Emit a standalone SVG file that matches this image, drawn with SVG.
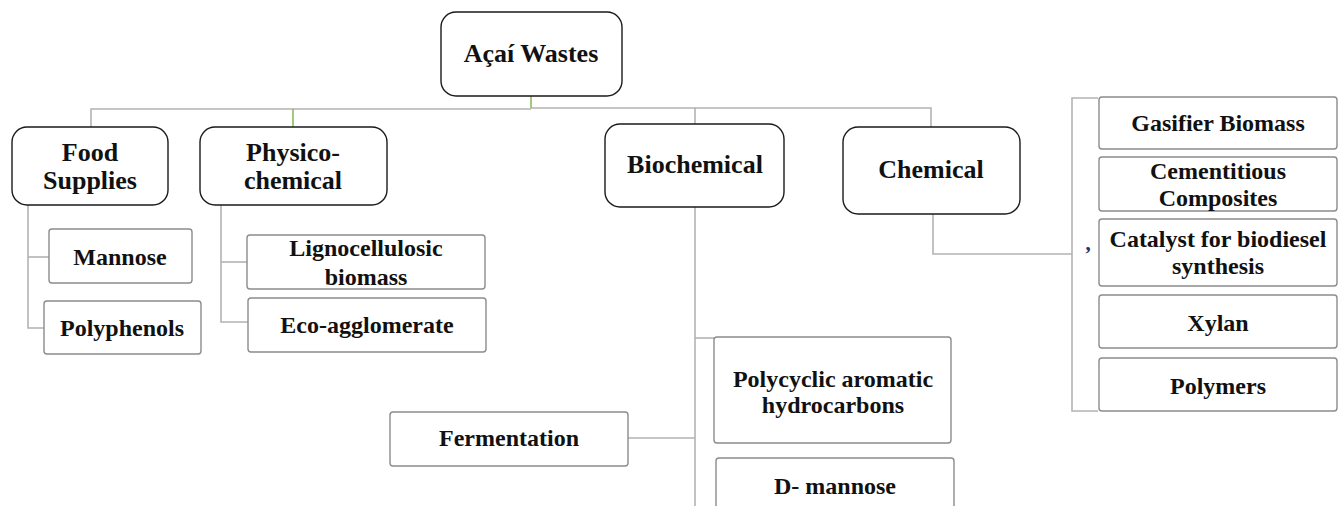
<svg xmlns="http://www.w3.org/2000/svg" width="1338" height="506" viewBox="0 0 1338 506">
<style>
  .main { fill: #ffffff; stroke: #1a1a1a; stroke-width: 1.4; }
  .leaf { fill: #ffffff; stroke: #8c8c8c; stroke-width: 1.4; }
  .ln { fill: none; stroke: #b3b3b3; stroke-width: 1.6; }
  .gr { fill: none; stroke: #7cb342; stroke-width: 1.4; }
  text { font-family: "Liberation Serif", "Times New Roman", serif; font-weight: bold; fill: #111111; text-anchor: middle; }
  .t1 { font-size: 26px; }
  .t2 { font-size: 24px; }
</style>
<rect width="1338" height="506" fill="#ffffff"/>

<g id="connectors">
  <path class="ln" d="M91 127 V109 H531"/>
  <path class="ln" d="M531 108 H695 V124"/>
  <path class="ln" d="M695 108 H931 V127"/>
  <path class="gr" d="M531 96 V108"/>
  <path class="gr" d="M293 109 V127"/>
  <path class="ln" d="M28 205 V328 H44"/>
  <path class="ln" d="M28 257 H49"/>
  <path class="ln" d="M221 205 V322 H248"/>
  <path class="ln" d="M221 262 H247"/>
  <path class="ln" d="M695 207 V506"/>
  <path class="ln" d="M628 438 H695"/>
  <path class="ln" d="M695 338 H714"/>
  <path class="ln" d="M933 214 V254 H1072"/>
  <path class="ln" d="M1098 98 H1072 V411 H1098"/>
</g>

<g id="acai-wastes">
  <rect class="main" x="441" y="12" width="181" height="84" rx="15"/>
  <text class="t1" x="531" y="62">Açaí Wastes</text>
</g>
<g id="food-supplies">
  <rect class="main" x="12" y="127" width="156" height="78" rx="15"/>
  <text class="t1" x="90" y="161">Food</text>
  <text class="t1" x="90" y="189">Supplies</text>
</g>
<g id="physico-chemical">
  <rect class="main" x="200" y="127" width="187" height="78" rx="15"/>
  <text class="t1" x="293" y="161">Physico-</text>
  <text class="t1" x="293" y="189">chemical</text>
</g>
<g id="biochemical">
  <rect class="main" x="605" y="124" width="179" height="83" rx="15"/>
  <text class="t1" x="695" y="173">Biochemical</text>
</g>
<g id="chemical">
  <rect class="main" x="843" y="127" width="177" height="87" rx="15"/>
  <text class="t1" x="931" y="178">Chemical</text>
</g>

<g id="mannose">
  <rect class="leaf" x="49" y="229" width="143" height="54" rx="3"/>
  <text class="t2" x="120" y="265">Mannose</text>
</g>
<g id="polyphenols">
  <rect class="leaf" x="44" y="301" width="157" height="53" rx="3"/>
  <text class="t2" x="122" y="336">Polyphenols</text>
</g>
<g id="lignocellulosic-biomass">
  <rect class="leaf" x="247" y="235" width="238" height="54" rx="3"/>
  <text class="t2" x="366" y="256">Lignocellulosic</text>
  <text class="t2" x="366" y="285">biomass</text>
</g>
<g id="eco-agglomerate">
  <rect class="leaf" x="248" y="298" width="238" height="54" rx="3"/>
  <text class="t2" x="367" y="333">Eco-agglomerate</text>
</g>
<g id="fermentation">
  <rect class="leaf" x="390" y="412" width="238" height="54" rx="3"/>
  <text class="t2" x="509" y="446">Fermentation</text>
</g>
<g id="polycyclic">
  <rect class="leaf" x="714" y="337" width="237" height="106" rx="3"/>
  <text class="t2" x="833" y="387">Polycyclic aromatic</text>
  <text class="t2" x="833" y="413">hydrocarbons</text>
</g>
<g id="d-mannose">
  <rect class="leaf" x="716" y="458" width="238" height="60" rx="3"/>
  <text class="t2" x="835" y="494">D- mannose</text>
</g>
<g id="gasifier-biomass">
  <rect class="leaf" x="1099" y="97" width="238" height="52" rx="3"/>
  <text class="t2" x="1218" y="131">Gasifier Biomass</text>
</g>
<g id="cementitious-composites">
  <rect class="leaf" x="1099" y="157" width="238" height="54" rx="3"/>
  <text class="t2" x="1218" y="179">Cementitious</text>
  <text class="t2" x="1218" y="206">Composites</text>
</g>
<g id="catalyst">
  <rect class="leaf" x="1099" y="219" width="238" height="67" rx="3"/>
  <text class="t2" x="1218" y="247">Catalyst for biodiesel</text>
  <text class="t2" x="1218" y="274">synthesis</text>
</g>
<g id="xylan">
  <rect class="leaf" x="1099" y="295" width="238" height="53" rx="3"/>
  <text class="t2" x="1218" y="331">Xylan</text>
</g>
<g id="polymers">
  <rect class="leaf" x="1099" y="358" width="238" height="53" rx="3"/>
  <text class="t2" x="1218" y="394">Polymers</text>
</g>
<text x="1089" y="250" style="font-size:22px;font-style:italic;fill:#1f3864;">,</text>
</svg>
